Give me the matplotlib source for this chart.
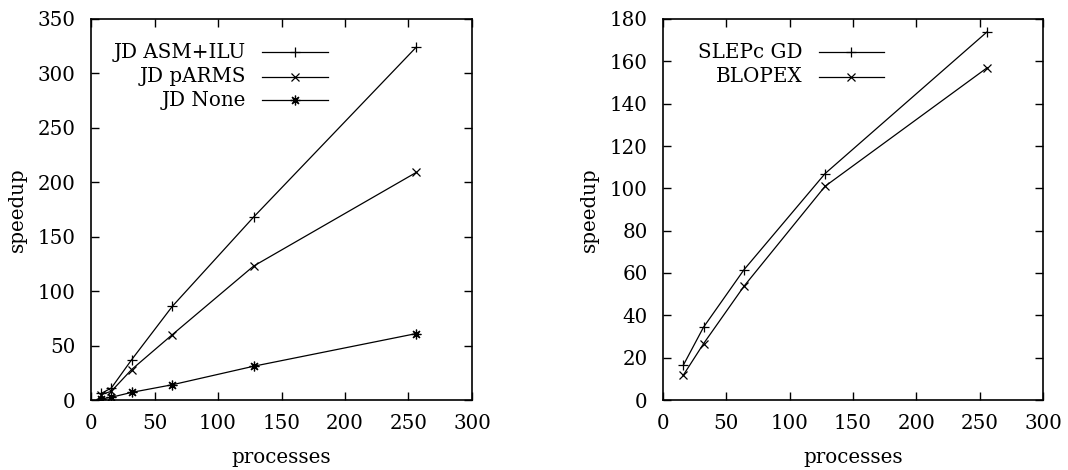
import matplotlib
matplotlib.use("Agg")
import matplotlib.pyplot as plt
from matplotlib.lines import Line2D

plt.rcParams['font.family'] = ['DejaVu Serif']

# Left panel data
procs_left = [8, 16, 32, 64, 128, 256]
jd_asm_ilu = [6, 11, 37, 86, 168, 324]
jd_parms = [5, 8, 28, 60, 123, 209]
jd_none = [1, 2.5, 7, 14, 31, 61]

# Right panel data
procs_right = [16, 32, 64, 128, 256]
slepc_gd = [16.4, 34.4, 61.6, 107, 174]
blopex = [11.7, 26.6, 53.8, 101, 157]

left_labels = ['JD ASM+ILU', 'JD pARMS', 'JD None']
right_labels = ['SLEPc GD', 'BLOPEX']
left_yticks = [0, 50, 100, 150, 200, 250, 300, 350]
right_yticks = [0, 20, 40, 60, 80, 100, 120, 140, 160, 180]
xticks = [0, 50, 100, 150, 200, 250, 300]

W, H = 1068, 470
fig = plt.figure(figsize=(W / 100, H / 100), dpi=100)

ax1 = fig.add_axes([91 / W, 1 - 400 / H, (472 - 91) / W, (400 - 19) / H])
ax2 = fig.add_axes([663 / W, 1 - 400 / H, (1043 - 663) / W, (400 - 19) / H])

FS = 14.3
lw = 0.9
star = (8, 2, 0)
styles = [dict(marker='+', ms=7.5), dict(marker='x', ms=6), dict(marker=star, ms=7)]

left_series = [jd_asm_ilu, jd_parms, jd_none]
for ys, st in zip(left_series, styles):
    ax1.plot(procs_left, ys, color='black', lw=lw, mew=lw, **st)
ax1.set_xlim(0, 300)
ax1.set_ylim(0, 350)
ax1.set_yticks(left_yticks)

right_series = [slepc_gd, blopex]
for ys, st in zip(right_series, styles):
    ax2.plot(procs_right, ys, color='black', lw=lw, mew=lw, **st)
ax2.set_xlim(0, 300)
ax2.set_ylim(0, 180)
ax2.set_yticks(right_yticks)


def legend(ax, labels, text_x, line_x0, line_x1, rows):
    for lab, y, st in zip(labels, rows, styles):
        ax.text(text_x, y, lab, transform=ax.transAxes, ha='right', va='center',
                fontsize=FS)
        ax.add_line(Line2D([line_x0, line_x1], [y, y], transform=ax.transAxes,
                           color='black', lw=lw))
        ax.add_line(Line2D([(line_x0 + line_x1) / 2], [y], transform=ax.transAxes,
                           color='black', lw=0, mew=lw, **st))


legend(ax1, left_labels, 0.407, 0.449, 0.622, [0.9126, 0.8486, 0.787])
legend(ax2, right_labels, 0.3666, 0.4097, 0.5824, [0.9126, 0.8486])

for ax in (ax1, ax2):
    ax.set_xticks(xticks)
    ax.tick_params(direction='in', length=6, width=1, top=True, right=True,
                   labelsize=FS, pad=11)
    ax.tick_params(axis='x', pad=10)
    for s in ax.spines.values():
        s.set_linewidth(1.2)
    ax.set_xlabel('processes', fontsize=FS, labelpad=11)
    ax.set_ylabel('speedup', fontsize=FS, labelpad=8)

fig.savefig('out.png', dpi=100)
